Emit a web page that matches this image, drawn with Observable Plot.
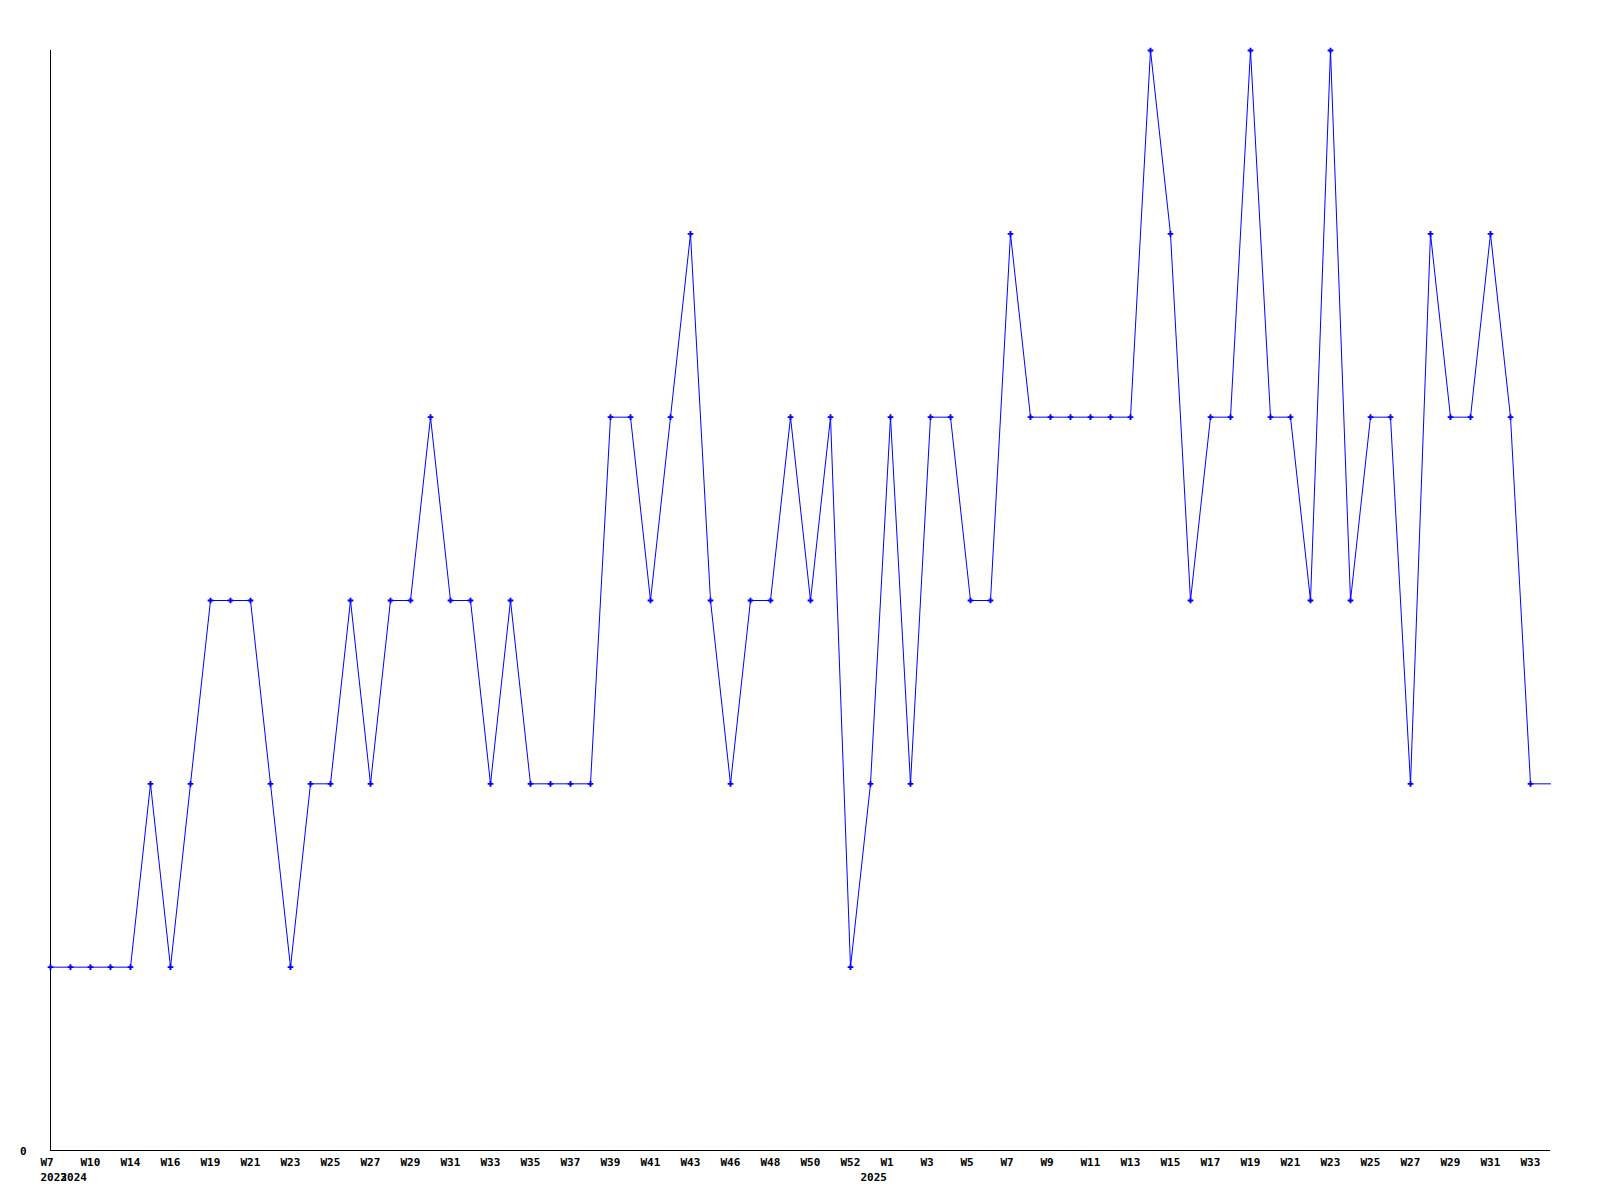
<!DOCTYPE html>
<html>
<head>
<meta charset="utf-8">
<script src="https://cdn.jsdelivr.net/npm/d3@7"></script>
<script src="https://cdn.jsdelivr.net/npm/@observablehq/plot@0.6"></script>
<style>
  html, body { margin: 0; padding: 0; background: #ffffff; }
  #chart { width: 1600px; height: 1200px; }
</style>
</head>
<body>
<div id="chart"></div>
<script>
// Week labels for each data point (categorical positions, in order)
const weeks = [
  "W7", "W9", "W10", "W12", "W14", "W15", "W16", "W18", "W19", "W20",
  "W21", "W22", "W23", "W24", "W25", "W26", "W27", "W28", "W29", "W30",
  "W31", "W32", "W33", "W34", "W35", "W36", "W37", "W38", "W39", "W40",
  "W41", "W42", "W43", "W45", "W46", "W47", "W48", "W49", "W50", "W51",
  "W52", "W0", "W1", "W2", "W3", "W4", "W5", "W6", "W7", "W8",
  "W9", "W10", "W11", "W12", "W13", "W14", "W15", "W16", "W17", "W18",
  "W19", "W20", "W21", "W22", "W23", "W24", "W25", "W26", "W27", "W28",
  "W29", "W30", "W31", "W32", "W33", "W34"
];

// Values per week
const values = [
  1, 1, 1, 1, 1, 2, 1, 2, 3, 3,
  3, 2, 1, 2, 2, 3, 2, 3, 3, 4,
  3, 3, 2, 3, 2, 2, 2, 2, 4, 4,
  3, 4, 5, 3, 2, 3, 3, 4, 3, 4,
  1, 2, 4, 2, 4, 4, 3, 3, 5, 4,
  4, 4, 4, 4, 4, 6, 5, 3, 4, 4,
  6, 4, 4, 3, 6, 3, 4, 4, 2, 5,
  4, 4, 5, 4, 2, 2
];

// Year labels and the index of the week where each starts
const yearLabels = ["2023", "2024", "2025"];
const yearStarts = [0, 1, 41];

// Indices that carry a week label on the axis
const labelIdx = [0,2,4,6,8,10,12,14,16,18,20,22,24,26,28,30,32,34,36,38,40,42,44,46,48,50,52,54,56,58,60,62,64,66,68,70,72,74];

const data = values.map((v, i) => ({i, v, week: weeks[i]}));
const marked = data.slice(0, data.length - 1);

const chart = Plot.plot({
  width: 1600,
  height: 1200,
  marginLeft: 50,
  marginRight: 50,
  marginTop: 50,
  marginBottom: 50,
  style: {
    fontFamily: "'DejaVu Sans Mono', monospace",
    fontSize: "11px",
    fontWeight: "bold",
    color: "#000000",
    background: "#ffffff"
  },
  x: {domain: [0, values.length - 1], axis: null, label: null},
  y: {domain: [0, 6], axis: null, label: null},
  marks: [
    Plot.ruleX([0], {stroke: "#000000", strokeWidth: 1}),
    Plot.ruleY([0], {stroke: "#000000", strokeWidth: 1}),
    Plot.axisX({
      ticks: labelIdx,
      tickFormat: (i) => weeks[i],
      tickSize: 0,
      tickPadding: 8,
      textAnchor: "start",
      dx: -10,
      fill: "#000000",
      label: null
    }),
    Plot.axisX({
      ticks: yearStarts,
      tickFormat: (i) => yearLabels[yearStarts.indexOf(i)],
      tickSize: 0,
      tickPadding: 23,
      textAnchor: "start",
      dx: -10,
      fill: "#000000",
      label: null
    }),
    Plot.axisY({
      ticks: [0],
      tickFormat: (d) => String(d),
      tickSize: 0,
      tickPadding: 24,
      dy: 1,
      fill: "#000000",
      label: null
    }),
    Plot.line(data, {x: "i", y: "v", stroke: "#0000ff", strokeWidth: 1}),
    Plot.dot(marked, {x: "i", y: "v", symbol: "cross", r: 2.4, fill: "#0000ff", stroke: "none"})
  ]
});

document.getElementById("chart").appendChild(chart);
</script>
</body>
</html>
